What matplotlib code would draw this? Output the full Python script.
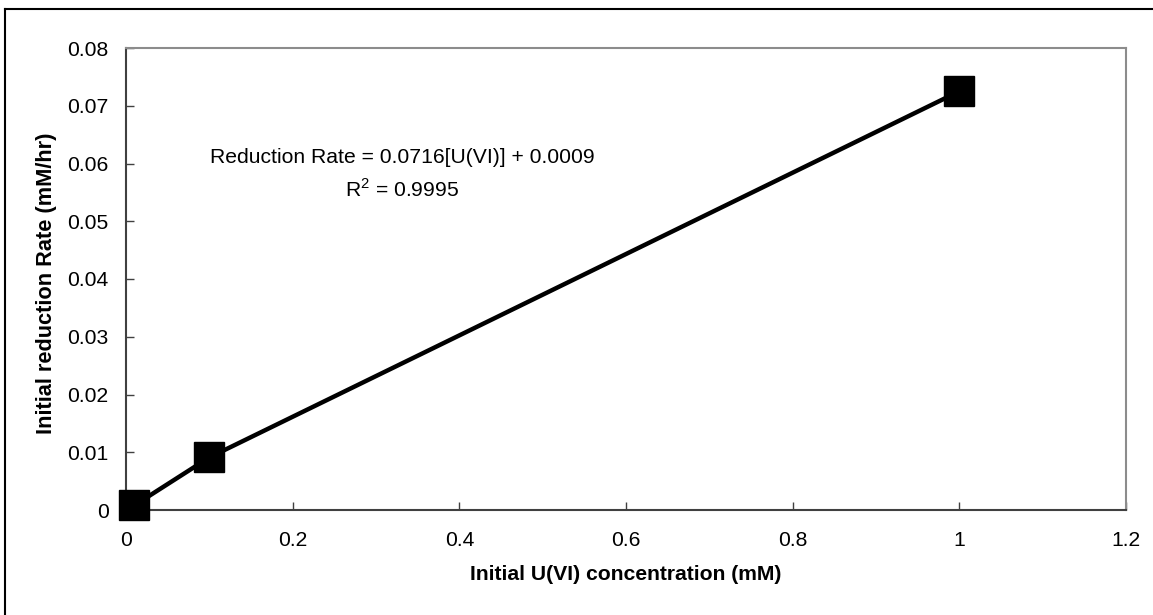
import matplotlib
matplotlib.use("Agg")
import matplotlib.pyplot as plt
from matplotlib.lines import Line2D

plt.rcParams['font.family'] = ['Liberation Sans', 'DejaVu Sans']
plt.rcParams['mathtext.fontset'] = 'custom'
plt.rcParams['mathtext.rm'] = 'Liberation Sans'

# Data
conc = [0.01, 0.1, 1.0]
rate = [0.0008, 0.0091, 0.0725]
x_ticks = [0, 0.2, 0.4, 0.6, 0.8, 1, 1.2]
x_tick_labels = ['0', '0.2', '0.4', '0.6', '0.8', '1', '1.2']
y_ticks = [0, 0.01, 0.02, 0.03, 0.04, 0.05, 0.06, 0.07, 0.08]
y_tick_labels = ['0', '0.01', '0.02', '0.03', '0.04', '0.05', '0.06', '0.07', '0.08']
eq_line1 = 'Reduction Rate = 0.0716[U(VI)] + 0.0009'
eq_line2 = 'R$^2$ = 0.9995'
xlabel = 'Initial U(VI) concentration (mM)'
ylabel = 'Initial reduction Rate (mM/hr)'

FS = 15.2
W, H = 1153, 615
fig = plt.figure(figsize=(W / 100, H / 100), dpi=100)
ax = fig.add_axes([126 / W, 1 - 510 / H, 1000 / W, 462 / H])

ax.plot(conc, rate, color='black', linewidth=3.2, marker='s', markersize=21,
        markerfacecolor='black', markeredgecolor='black', clip_on=False, zorder=3)

ax.set_xlim(0, 1.2)
ax.set_ylim(0, 0.08)
ax.set_xticks(x_ticks)
ax.set_xticklabels(x_tick_labels)
ax.set_yticks(y_ticks)
ax.set_yticklabels(y_tick_labels)
ax.tick_params(axis='both', direction='in', length=6, width=1, colors='#404040',
               labelsize=FS, labelcolor='black')
ax.tick_params(axis='x', pad=15)
ax.tick_params(axis='y', pad=12.5)

for s in ['left', 'bottom']:
    ax.spines[s].set_color('#404040')
    ax.spines[s].set_linewidth(1.5)
for s in ['top', 'right']:
    ax.spines[s].set_color('#8c8c8c')
    ax.spines[s].set_linewidth(1.5)

ax.set_xlabel(xlabel, fontsize=FS, fontweight='bold', labelpad=11)
ax.set_ylabel(ylabel, fontsize=15.7, fontweight='bold')
ax.yaxis.set_label_coords(-0.069, 0.491)

ax.text(0.3312, 0.0611, eq_line1, fontsize=FS, ha='center', va='center')
ax.text(0.3312, 0.0555, eq_line2, fontsize=FS, ha='center', va='center')

# outer frame (top & left visible)
fig.add_artist(Line2D([5 / W, 5 / W], [0, 1 - 9 / H], transform=fig.transFigure,
                      color='black', linewidth=1.5))
fig.add_artist(Line2D([5 / W, 1], [1 - 9 / H, 1 - 9 / H], transform=fig.transFigure,
                      color='black', linewidth=1.5))

fig.savefig('out.png', dpi=100)
